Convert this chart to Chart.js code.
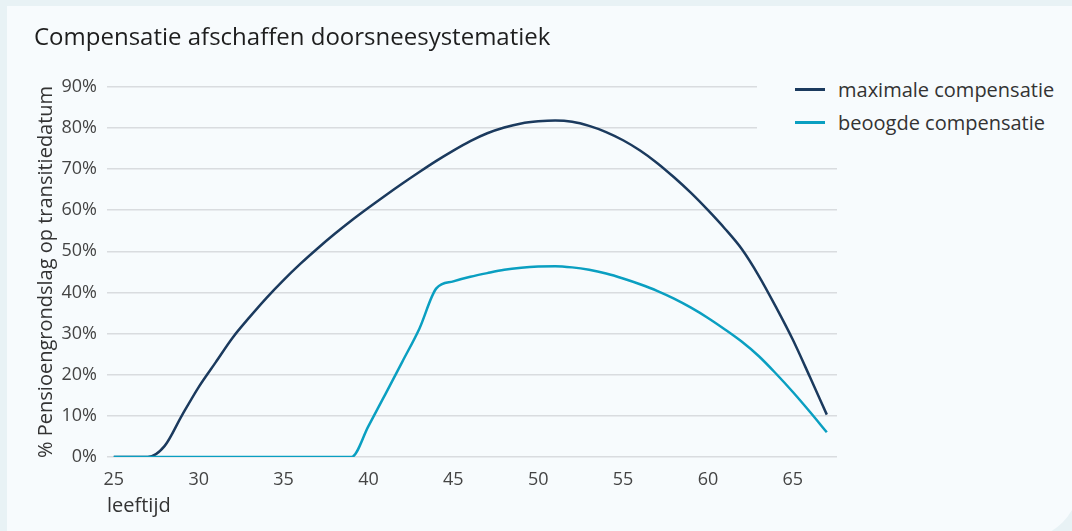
<!DOCTYPE html>
<html>
<head>
<meta charset="utf-8">
<script src="https://cdn.jsdelivr.net/npm/chart.js@4/dist/chart.umd.min.js"></script>
<style>
  html, body { margin: 0; padding: 0; }
  body { width: 1072px; height: 531px; background: #e8f2f5; position: relative; overflow: hidden; font-family: "Open Sans", sans-serif; }
  .card { position: absolute; left: 7px; top: 6px; right: -8px; bottom: -9px; background: #f7fbfd; border-bottom-right-radius: 60px; }
  .wrap { position: absolute; left: 0; top: 0; width: 1072px; height: 531px; }
  #legend { position: absolute; left: 757px; top: 68px; width: 310px; height: 68px; background: #f7fbfd; }
  #legend .item { position: absolute; left: 38px; height: 26px; display: flex; align-items: center; font-size: 20px; color: #333; }
  #legend .swatch { width: 30px; height: 3px; margin-right: 13px; }
</style>
</head>
<body>
<div class="card"></div>
<div class="wrap"><canvas id="chart" width="1072" height="531"></canvas></div>
<div id="legend"></div>
<script>
// ages on the x axis
const ages = [25, 26, 27, 28, 29, 30, 31, 32, 33, 34, 35, 36, 37, 38, 39, 40, 41, 42, 43, 44, 45, 46,
  47, 48, 49, 50, 51, 52, 53, 54, 55, 56, 57, 58, 59, 60, 61, 62, 63, 64, 65, 66, 67];

// % pensioengrondslag
const maxComp = [0, 0, 0, 2.7, 10, 17, 23, 29, 34, 38.7, 43, 47, 50.7, 54.2, 57.5, 60.6, 63.6, 66.5, 69.3, 72, 74.5, 76.8,
  78.7, 80.1, 81.1, 81.6, 81.8, 81.5, 80.5, 79, 77, 74.5, 71.5, 68, 64.2, 60, 55.5, 50.5, 44, 36.5, 28.5, 19.5, 10.3];

const targetComp = [0, 0, 0, 0, 0, 0, 0, 0, 0, 0, 0, 0, 0, 0, 0, 7.5, 15.3, 23.2, 31.2, 41, 42.7, 43.8,
  44.7, 45.5, 46, 46.3, 46.4, 46.1, 45.5, 44.6, 43.4, 42, 40.4, 38.5, 36.3, 33.8, 31, 28, 24.5, 20.3, 15.8, 11, 6];

const xTicks = [25, 30, 35, 40, 45, 50, 55, 60, 65];
const seriesNames = ["maximale compensatie", "beoogde compensatie"];
const seriesColors = ["#1b3a5e", "#0a9fc1"];

const toPoints = (vals) => vals.map((v, i) => ({ x: ages[i], y: v }));

const chart = new Chart(document.getElementById("chart"), {
  type: "line",
  data: {
    datasets: [
      {
        label: seriesNames[1],
        data: toPoints(targetComp),
        borderColor: seriesColors[1],
        borderWidth: 2.5,
        pointRadius: 0,
        cubicInterpolationMode: "monotone",
        order: 0,
      },
      {
        label: seriesNames[0],
        data: toPoints(maxComp),
        borderColor: seriesColors[0],
        borderWidth: 2.5,
        pointRadius: 0,
        cubicInterpolationMode: "monotone",
        order: 1,
      },
    ],
  },
  options: {
    responsive: false,
    animation: false,
    layout: { padding: { left: 34, right: 235, bottom: 11 } },
    plugins: {
      legend: { display: false },
      tooltip: { enabled: false },
      title: {
        display: true,
        text: "Compensatie afschaffen doorsneesystematiek",
        align: "start",
        color: "#1e1e1e",
        font: { family: "Open Sans", size: 24, weight: "normal" },
        padding: { top: 24, bottom: 34 },
      },
    },
    scales: {
      x: {
        type: "linear",
        min: 24.6,
        max: 67.6,
        afterBuildTicks: (scale) => {
          scale.ticks = xTicks.map((v) => ({ value: v }));
        },
        grid: { display: false },
        border: { display: false },
        ticks: {
          color: "#444",
          padding: 6,
          font: { family: "Open Sans", size: 18, lineHeight: 1 },
        },
        title: {
          display: true,
          text: "leeftijd",
          align: "start",
          color: "#333",
          padding: { top: 1, bottom: 4 },
          font: { family: "Open Sans", size: 20, lineHeight: 1 },
        },
      },
      y: {
        min: 0,
        max: 90,
        afterFit: (scale) => { scale.width = 73; },
        grid: { color: "#d9dcdf", lineWidth: 1.5, drawTicks: false },
        border: { display: false },
        ticks: {
          stepSize: 10,
          color: "#444",
          padding: 10,
          font: { family: "Open Sans", size: 18 },
          callback: (v) => v + "%",
        },
        title: {
          display: true,
          text: "% Pensioengrondslag op transitiedatum",
          color: "#333",
          padding: { top: 0, bottom: 0 },
          font: { family: "Open Sans", size: 20 },
        },
      },
    },
  },
});

// html legend on top of the chart, built from the series
const legend = document.getElementById("legend");
seriesNames.forEach((name, i) => {
  const item = document.createElement("div");
  item.className = "item";
  item.style.top = (8 + i * 33) + "px";
  item.innerHTML = '<span class="swatch" style="background:' + seriesColors[i] + '"></span>' + name;
  legend.appendChild(item);
});
</script>
</body>
</html>
